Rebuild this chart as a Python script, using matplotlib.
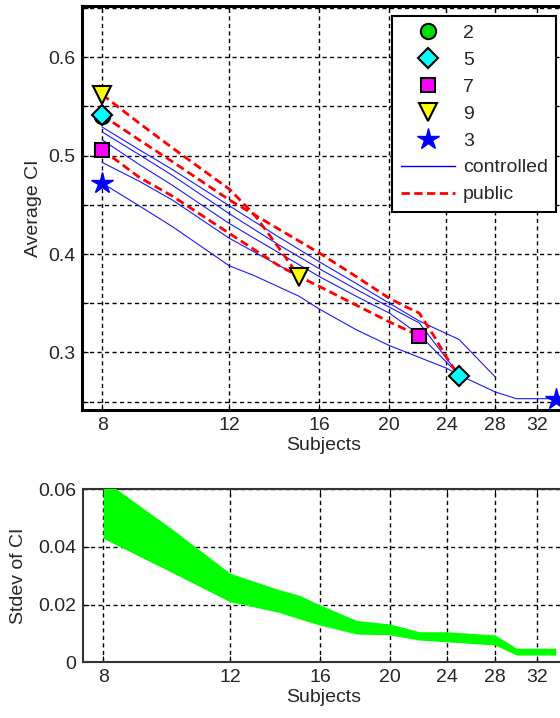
import numpy as np
import matplotlib
matplotlib.use("Agg")
import matplotlib.pyplot as plt
from matplotlib.ticker import FixedLocator, FuncFormatter, NullLocator
from matplotlib.lines import Line2D

plt.rcParams['font.family'] = ['Liberation Sans', 'DejaVu Sans']

# ---- average CI curves (subjects vs. mean CI) ----
g9_pub_x = [8, 9, 10, 11, 12, 13, 14, 15]
g9_pub_y = [0.562, 0.533, 0.508, 0.486, 0.466, 0.440, 0.408, 0.377]

g5_pub_x = [8, 9, 10, 12, 14, 16, 18, 20, 21, 22, 23, 24, 25]
g5_pub_y = [0.541, 0.516, 0.494, 0.455, 0.426, 0.401, 0.377, 0.355, 0.347, 0.340, 0.318, 0.295, 0.276]

g7_pub_x = [8, 9, 10, 12, 14, 15, 16, 18, 20, 22]
g7_pub_y = [0.506, 0.478, 0.459, 0.421, 0.389, 0.377, 0.367, 0.348, 0.331, 0.317]

g2_ctl_x = [8, 9, 10, 12, 14, 16, 18, 20, 22, 25, 28]
g2_ctl_y = [0.529, 0.506, 0.486, 0.449, 0.418, 0.392, 0.370, 0.350, 0.332, 0.313, 0.2755]

g5_ctl_x = [8, 9, 10, 12, 14, 16, 18, 20, 22, 25]
g5_ctl_y = [0.524, 0.501, 0.480, 0.441, 0.410, 0.385, 0.364, 0.346, 0.330, 0.277]

g7_ctl_x = [8, 9, 10, 12, 14, 16, 18, 20, 22, 25]
g7_ctl_y = [0.516, 0.491, 0.470, 0.431, 0.402, 0.377, 0.357, 0.340, 0.318, 0.277]

g9_ctl_x = [8, 9, 10, 12, 14, 15]
g9_ctl_y = [0.493, 0.474, 0.455, 0.416, 0.389, 0.378]

g3_ctl_x = [8, 9, 10, 12, 13, 15, 16, 18, 20, 24, 25, 28, 30, 34]
g3_ctl_y = [0.472, 0.449, 0.428, 0.388, 0.378, 0.357, 0.344, 0.323, 0.307, 0.284, 0.277, 0.260, 0.253, 0.253]

g2_start_x = [8]
g2_start_y = [0.540]

# ---- spread of CI (band between lower and upper stdev) ----
sd_x = [8, 10, 12, 14, 15, 16, 18, 20, 22, 24, 28, 30, 34]
sd_upper = [0.0634, 0.0460, 0.0309, 0.0253, 0.0232, 0.0199, 0.0145, 0.0133, 0.0106, 0.0106, 0.0095, 0.0049, 0.0049]
sd_lower = [0.0430, 0.0310, 0.0210, 0.0174, 0.0150, 0.0129, 0.0098, 0.0095, 0.0077, 0.0071, 0.0060, 0.0025, 0.0025]

x_ticks = [8, 12, 16, 20, 24, 28, 32]
legend_labels = ['2', '5', '7', '9', '3', 'controlled', 'public']

TXT = '#262626'
BLUE = '#1a1aff'
RED = '#ff0000'
grid_style = dict(color='black', linestyle=(0, (3, 2.4)), linewidth=1.0)

fig = plt.figure(figsize=(5.6, 7.18), dpi=100)
ax1 = fig.add_axes([82 / 560, 1 - 410 / 718, (564.7 - 82) / 560, 404 / 718])
ax2 = fig.add_axes([83 / 560, 1 - 662.3 / 718, (564.7 - 83) / 560, 173 / 718])

# ---- top panel ----
blue_kw = dict(color=BLUE, lw=0.8, zorder=3)
red_kw = dict(color=RED, lw=2.0, linestyle=(0, (3, 1.6)), zorder=4)
for xs, ys in [(g2_ctl_x, g2_ctl_y), (g5_ctl_x, g5_ctl_y), (g7_ctl_x, g7_ctl_y),
               (g9_ctl_x, g9_ctl_y), (g3_ctl_x, g3_ctl_y)]:
    ax1.plot(xs, ys, **blue_kw)
for xs, ys in [(g9_pub_x, g9_pub_y), (g5_pub_x, g5_pub_y), (g7_pub_x, g7_pub_y)]:
    ax1.plot(xs, ys, **red_kw)

mk_circle = dict(marker='o', ms=11, mfc='#00e000', mec='black', mew=1.5, ls='none')
mk_diam = dict(marker='D', ms=10, mfc='#00ffff', mec='black', mew=1.5, ls='none')
mk_sq = dict(marker='s', ms=10, mfc='#ff00ff', mec='black', mew=1.5, ls='none')
mk_tri = dict(marker='v', ms=13, mfc='#ffff00', mec='black', mew=1.5, ls='none')
mk_star = dict(marker='*', ms=16, mfc='#0000ff', mec='#0000ff', mew=1.0, ls='none')

ax1.plot(g2_start_x, g2_start_y, zorder=5, **mk_circle)
ax1.plot([g5_pub_x[0], g5_pub_x[-1]], [g5_pub_y[0], g5_pub_y[-1]], zorder=6, **mk_diam)
ax1.plot([g7_pub_x[0], g7_pub_x[-1]], [g7_pub_y[0], g7_pub_y[-1]], zorder=6, **mk_sq)
ax1.plot([g9_pub_x[0], g9_pub_x[-1]], [g9_pub_y[0], g9_pub_y[-1]], zorder=6, **mk_tri)
ax1.plot([g3_ctl_x[0], g3_ctl_x[-1]], [g3_ctl_y[0], g3_ctl_y[-1]], zorder=6, **mk_star)

handles = [Line2D([], [], **mk_circle), Line2D([], [], **mk_diam), Line2D([], [], **mk_sq),
           Line2D([], [], **mk_tri), Line2D([], [], **mk_star),
           Line2D([], [], color='#0000ff', lw=1.0),
           Line2D([], [], color=RED, lw=2.0, linestyle=(0, (3, 1.6)))]
leg = ax1.legend(handles, legend_labels, loc='upper right',
                 bbox_to_anchor=(556 / 560, 1 - 16 / 718), bbox_transform=fig.transFigure,
                 fontsize=14, handlelength=2.8, handletextpad=0.4, labelspacing=0.48,
                 borderpad=0.42, fancybox=False, framealpha=1.0, borderaxespad=0)
leg.get_frame().set_edgecolor('black')
leg.get_frame().set_linewidth(1.5)
for t in leg.get_texts():
    t.set_color(TXT)
leg.set_zorder(10)

ax1.set_xscale('log')
ax1.set_xlim(7.5, 35)
ax1.set_ylim(0.2415, 0.652)
ax1.xaxis.set_major_locator(FixedLocator(x_ticks))
ax1.xaxis.set_minor_locator(NullLocator())
ax1.xaxis.set_major_formatter(FuncFormatter(lambda v, p: f'{v:g}'))
ax1.yaxis.set_major_locator(FixedLocator(np.arange(0.25, 0.66, 0.05)))
ax1.yaxis.set_major_formatter(FuncFormatter(
    lambda v, p: f'{v:.1f}' if abs(v * 10 - round(v * 10)) < 1e-6 else ''))
ax1.grid(True, **grid_style)
ax1.set_axisbelow(True)
ax1.set_ylabel('Average CI', fontsize=14, color=TXT, labelpad=4)
ax1.set_xlabel('Subjects', fontsize=14, color=TXT, labelpad=2)
for s in ax1.spines.values():
    s.set_linewidth(2.2)
    s.set_color('black')

# ---- bottom panel ----
ax2.fill_between(sd_x, sd_lower, sd_upper, color='#00ff00', lw=0, zorder=3)
ax2.set_xscale('log')
ax2.set_xlim(7.5, 35)
ax2.set_ylim(0, 0.06)
ax2.xaxis.set_major_locator(FixedLocator(x_ticks))
ax2.xaxis.set_minor_locator(NullLocator())
ax2.xaxis.set_major_formatter(FuncFormatter(lambda v, p: f'{v:g}'))
ax2.yaxis.set_major_locator(FixedLocator([0, 0.02, 0.04, 0.06]))
ax2.yaxis.set_major_formatter(FuncFormatter(lambda v, p: '0' if v == 0 else f'{v:.2f}'))
ax2.grid(True, **grid_style)
ax2.set_axisbelow(True)
ax2.set_ylabel('Stdev of CI', fontsize=14, color=TXT, labelpad=8)
ax2.set_xlabel('Subjects', fontsize=14, color=TXT, labelpad=2)
for s in ax2.spines.values():
    s.set_linewidth(1.5)
    s.set_color('#333333')

for ax in (ax1, ax2):
    ax.tick_params(axis='both', which='major', direction='in', length=4, width=0.8,
                   top=True, right=True, labelsize=14, labelcolor=TXT, pad=5)

fig.savefig('out.png', dpi=100)
